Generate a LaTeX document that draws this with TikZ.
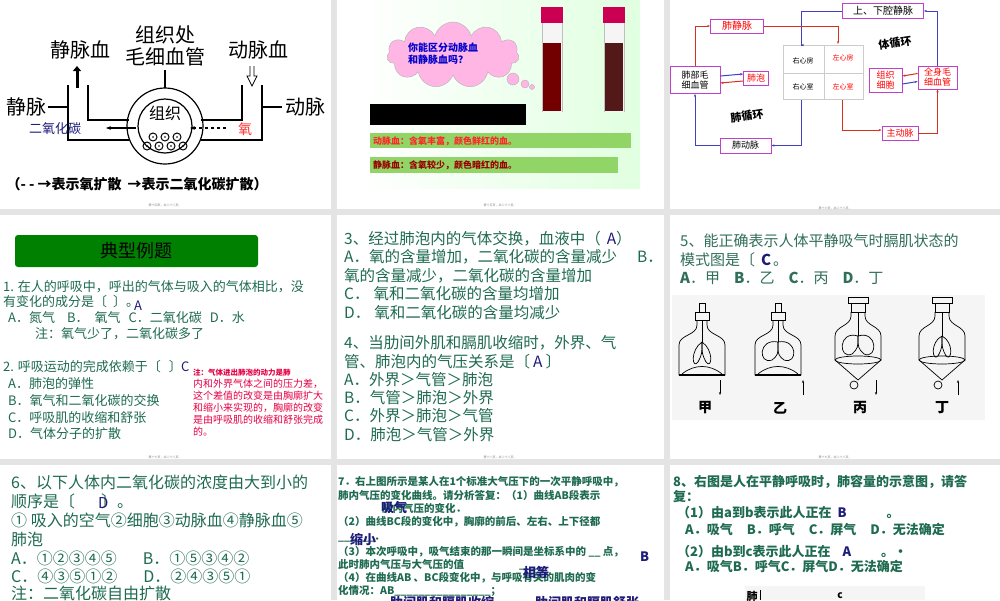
\documentclass[tikz,border=0pt]{standalone}
\usepackage{fontspec}
\setmainfont{Noto Sans CJK SC}
\usetikzlibrary{arrows.meta,shapes.symbols}
\definecolor{gtxt}{HTML}{1E6B50}
\definecolor{ans}{HTML}{1C1C7A}
\definecolor{bord}{HTML}{C040C8}
\definecolor{rarr}{HTML}{D83020}
\definecolor{barr}{HTML}{4040C0}
\definecolor{pagebg}{HTML}{E4E4E4}
\newcommand{\hs}[1]{\hspace*{#1pt}}
\tikzset{
 tl/.style={anchor=west,inner sep=0pt},
 bx/.style={draw=bord,line width=0.8pt,inner sep=1.5pt,font=\fontsize{9}{10}\selectfont,align=left},
 ra/.style={draw=rarr,line width=1pt,-{Stealth[length=3pt]}},
 ba/.style={draw=barr,line width=1pt,-{Stealth[length=3pt]}},
 pg/.style={font=\fontsize{3}{3}\selectfont,text=gray},
}
\begin{document}
\begin{tikzpicture}[x=1pt,y=-1pt]
\useasboundingbox (0,0) rectangle (1000,600);
\fill[pagebg] (0,0) rectangle (1000,600);
\foreach \xa/\xb in {0/331,337/664,670/1000}{
 \fill[white] (\xa,0) rectangle (\xb,209);
 \fill[white] (\xa,215) rectangle (\xb,459);
 \fill[white] (\xa,465) rectangle (\xb,600);}
% ---------------- slide 1
\begin{scope}[line width=1.2pt]
\node (s1a) at (165,35) {\fontsize{20}{20}\selectfont 组织处};
\node (s1b) at (165,57) {\fontsize{20}{20}\selectfont 毛细血管};
\node (s1c) at (80,50) {\fontsize{20}{20}\selectfont 静脉血};
\node (s1d) at (258,50) {\fontsize{20}{20}\selectfont 动脉血};
\node (s1e) at (26,107) {\fontsize{20}{20}\selectfont 静脉};
\node (s1f) at (305,107) {\fontsize{20}{20}\selectfont 动脉};
\draw (48,107)--(68,107); \draw (262,107)--(282,107);
\draw (165,70)--(165,88);
\draw (165,126) circle (38); \draw (165,126) circle (27);
\draw (68,85)--(68,140)--(129,140); \draw (88,85)--(88,120)--(129,120);
\draw (262,85)--(262,140)--(201,140); \draw (242,85)--(242,120)--(201,120);
\node (s1g) at (165,113) {\fontsize{16}{16}\selectfont 组织};
\foreach \x in {153,165,177}{\draw[line width=1pt] (\x,137) circle (4); \fill (\x,137) circle (0.9);}
\foreach \x in {147,159,171,183}{\draw[line width=1pt] (\x,146) circle (4); \fill (\x,146) circle (0.9);}
\node[text=ans] (s1h) at (55,129) {\fontsize{13}{13}\selectfont 二氧化碳};
\node[text=red!80] (s1i) at (245,129) {\fontsize{14}{14}\selectfont 氧};
\draw[-{Stealth[length=5pt]}] (136,128)--(106,128);
\draw[dashed,-{Stealth[length=5pt]}] (226,128)--(190,128);
\draw[line width=3pt,-{Triangle[length=5pt,width=8pt]}] (77,88)--(77,66);
\draw[line width=0.8pt] (250,66)--(250,76)--(247,76)--(252,86)--(257,76)--(254,76)--(254,66);
\node[tl] (s1j) at (6,184) {\fontsize{14}{14}\selectfont\bfseries （- - →表示氧扩散\hs{6}→表示二氧化碳扩散）};
\end{scope}
\node[pg] at (165,205) {第十四页，共二十八页。};
% ---------------- slide 2
\shade[left color=white,right color=green!12] (360,0) rectangle (640,188);
\node[cloud,cloud puffs=11,aspect=2,draw=gray!60,fill=pink!70!magenta!60,minimum width=132pt,minimum height=66pt] (cl) at (453,55) {};
\node[tl,text=blue!80!black,align=left] (cq) at (408,54) {\fontsize{10}{19}\selectfont\bfseries 你能区分动脉血\\\bfseries 和静脉血吗？};
\fill[pink!70!magenta!60,draw=gray!60] (513,79) circle (6) (525,84) circle (4) (532,87) circle (2.5);
\foreach \x/\c in {542/{red!45!black},604/{red!25!black!90}}{
 \fill[gray!8] (\x,20) rectangle (\x+20,112);
 \draw[gray!50] (\x,20)--(\x,112) (\x+20,20)--(\x+20,112);
 \fill[\c] (\x+1,43) rectangle (\x+19,111);
 \fill[red!60!magenta!80!black] (\x-1,7) rectangle (\x+21,23);}
\fill[black] (370,104) rectangle (526,125);
\fill[green!45!olive!60] (370,133) rectangle (631,148);
\fill[green!45!olive!60] (370,157) rectangle (618,173);
\node[tl,text=red!85] (b1) at (373,141) {\fontsize{9}{9}\selectfont\bfseries 动脉血：含氧丰富，颜色鲜红的血。};
\node[tl,text=red!60!black] (b2) at (373,165) {\fontsize{9}{9}\selectfont\bfseries 静脉血：含氧较少，颜色暗红的血。};
\node[pg] at (500,205) {第十五页，共二十八页。};
% ---------------- slide 3
\node[bx,minimum width=81pt,minimum height=15pt] (sx) at (883,11) {\fontsize{10}{10}\selectfont 上、下腔静脉};
\node[bx,text=red,minimum width=53pt,minimum height=14pt] (fjm) at (737,26) {\fontsize{10}{10}\selectfont 肺静脉};
\node[bx,minimum width=50pt,minimum height=27pt] (fbm) at (695,80) {肺部毛\\细血管};
\node[bx,text=red,minimum width=25pt,minimum height=14pt] (fp) at (756,78) {肺泡};
\draw[gray!40,line width=0.5pt] (783,45) rectangle (863,99) (824,45)--(824,99) (783,73)--(863,73);
\node (yxf) at (803,61) {\fontsize{7}{7}\selectfont 右心房};
\node (yxs) at (803,87) {\fontsize{7}{7}\selectfont 右心室};
\node[text=red] (zxf) at (843,58) {\fontsize{7}{7}\selectfont 左心房};
\node[text=red] (zxs) at (843,87) {\fontsize{7}{7}\selectfont 左心室};
\coordinate (hr) at (801,45); \coordinate (hl) at (838,44);
\coordinate (hrb) at (801,100); \coordinate (hlb) at (842,100);
\node[bx,text=red,minimum width=33pt,minimum height=24pt] (zz) at (885.5,80) {组织\\细胞};
\node[bx,text=red,minimum width=39pt,minimum height=23pt] (qs) at (937.5,77.5) {全身毛\\细血管};
\node[bx,text=red,minimum width=36pt,minimum height=14pt] (zdm) at (900,133) {主动脉};
\node[bx,minimum width=51pt,minimum height=15pt] (fdm) at (745.5,145.5) {肺动脉};
\node[rotate=8] (tx) at (895,43) {\fontsize{11}{11}\selectfont\bfseries 体循环};
\node[rotate=8] (fx) at (747,116) {\fontsize{11}{11}\selectfont\bfseries 肺循环};
\draw[ba] (sx.west) -- ++(-41,0) |- (hr);
\draw[ba] (qs.north) |- (sx.east);
\draw[ra] (fjm.east) -| (hl);
\draw[ra] (fbm.north) |- (fjm.west);
\draw[ra] ([yshift=-3pt]fp.west) -- ([yshift=-3pt]fbm.east);
\draw[ba] ([yshift=4pt]fbm.east) -- ([yshift=4pt]fp.west);
\draw[ba] (hrb) |- (fdm.east);
\draw[ba] (fdm.west) -| (fbm.south);
\draw[ra] (hlb) |- ([yshift=3pt]zdm.west);
\draw[ra] (zdm.east) -| (qs.south);
\draw[ba] ([yshift=-4pt]zz.east) -- ([yshift=-4pt]qs.west);
\draw[ra] ([yshift=4pt]qs.west) -- ([yshift=4pt]zz.east);
\node[pg] at (835,208) {第十六页，共二十八页。};
% ---------------- slide 4
\fill[green!50!black,rounded corners=3pt] (15,235) rectangle (258,267);
\node (t4) at (136,251) {\fontsize{18}{18}\selectfont 典型例题};
\begin{scope}[every node/.style={tl,text=gtxt,font=\fontsize{13}{13}\selectfont}]
\node (a1) at (3,287) {1. 在人的呼吸中，呼出的气体与吸入的气体相比，没};
\node (a2) at (3,302) {有变化的成分是〔\hs{6}〕。};
\node (a3) at (8,318) {A．氮气\hs{12}B．\hs{6}氧气\hs{8}C．二氧化碳\hs{8}D．水};
\node (a4) at (35,334) {注：氧气少了，二氧化碳多了};
\node (a5) at (3,367) {2. 呼吸运动的完成依赖于〔\hs{8}〕};
\node (a6) at (8,384) {A．肺泡的弹性};
\node (a7) at (8,401) {B．氧气和二氧化碳的交换};
\node (a8) at (8,418) {C．呼吸肌的收缩和舒张};
\node (a9) at (8,434) {D．气体分子的扩散};
\end{scope}
\node[tl,text=ans] (a10) at (134,306) {\fontsize{13}{13}\selectfont A};
\node[tl,text=ans] (a11) at (181,367) {\fontsize{13}{13}\selectfont C};
\node[tl,text=red!70!magenta!90!black,align=left] (a12) at (193,403) {\fontsize{7.5}{11.6}\selectfont\bfseries 注：气体进出肺泡的动力是肺\\内和外界气体之间的压力差，\\这个差值的改变是由胸廓扩大\\和缩小来实现的，胸廓的改变\\是由呼吸肌的收缩和舒张完成\\的。};
\node[pg] at (165,457) {第十七页，共二十八页。};
% ---------------- slide 5
\begin{scope}[every node/.style={tl,text=gtxt,font=\fontsize{15.5}{15.5}\selectfont}]
\node (c1) at (344,239) {3、经过肺泡内的气体交换，血液中（\hs{6}\textcolor{ans}{A}）};
\node (c2) at (344,257) {A．氧的含量增加，二氧化碳的含量减少\hs{20}B．};
\node (c3) at (344,276) {氧的含量减少，二氧化碳的含量增加};
\node (c4) at (344,294) {C．\hs{4}氧和二氧化碳的含量均增加};
\node (c5) at (344,313) {D．\hs{4}氧和二氧化碳的含量均减少};
\node (c6) at (344,343) {4、当肋间外肌和膈肌收缩时，外界、气};
\node (c7) at (344,362) {管、肺泡内的气压关系是〔\hs{3}\textcolor{ans}{A}\hs{3}〕};
\node (c8) at (344,380) {A．外界＞气管＞肺泡};
\node (c9) at (344,398) {B．气管＞肺泡＞外界};
\node (c10) at (344,416) {C．外界＞肺泡＞气管};
\node (c11) at (344,435) {D．肺泡＞气管＞外界};
\end{scope}
\node[pg] at (500,457) {第十八页，共二十八页。};
% ---------------- slide 6
\begin{scope}[every node/.style={tl,text=gtxt!80!gray,font=\fontsize{15}{15}\selectfont}]
\node (d1) at (680,241) {5、能正确表示人体平静吸气时膈肌状态的};
\node (d2) at (680,260) {模式图是〔\hs{6}\textcolor{ans}{\bfseries C}\hs{2}。};
\node (d3) at (680,278) {\bfseries A\mdseries．甲\hs{14}\bfseries B\mdseries．乙\hs{14}\bfseries C\mdseries．丙\hs{14}\bfseries D\mdseries．丁};
\end{scope}
\fill[gray!8] (672,295) rectangle (985,420);
\begin{scope}[line width=0.7pt]
\foreach \cx/\yd/\ar in {702/372/down,778/372/up}{
 \draw (\cx-3,303) rectangle (\cx+3,312) (\cx-7,312) rectangle (\cx+7,320);
 \draw (\cx-5,320)--(\cx-5,325) to[out=-90,in=90] (\cx-23,345)--(\cx-23,375)--(\cx+23,375)--(\cx+23,345) to[out=90,in=-90] (\cx+5,325)--(\cx+5,320);
 \draw[line width=2pt] (\cx-23,375)--(\cx+23,375);
 \draw (\cx-20,374) to[out=40,in=140] (\cx+20,374);
 \draw (\cx,320)--(\cx,342);}
\draw (702,342) .. controls (690,350) and (692,370) .. (698,362) .. controls (702,354) .. (702,342);
\draw (702,342) .. controls (714,350) and (712,370) .. (706,362) .. controls (702,354) .. (702,342);
\draw (778,342) .. controls (758,338) and (758,365) .. (772,360) .. controls (778,355) .. (778,342);
\draw (778,342) .. controls (798,338) and (798,365) .. (784,360) .. controls (778,355) .. (778,342);
\draw[-{Stealth[length=3pt]}] (720,380)--(720,395);
\draw[-{Stealth[length=3pt]}] (803,395)--(803,380);
\foreach \cx in {858,942}{
 \draw (\cx-7,303) rectangle (\cx+7,312) (\cx-10,297) rectangle (\cx+10,303);
 \draw (\cx-7,312)--(\cx-7,316) to[out=-90,in=90] (\cx-23,336)--(\cx-23,360)--(\cx,380)--(\cx+23,360)--(\cx+23,336) to[out=90,in=-90] (\cx+7,316)--(\cx+7,312);
 \draw (\cx,360) ellipse (23 and 4);
 \draw (\cx,312)--(\cx,336);
 \draw (\cx-4,385) circle (4);}
\draw (858,336) .. controls (838,330) and (838,360) .. (852,354) .. controls (858,348) .. (858,336);
\draw (858,336) .. controls (878,330) and (878,360) .. (864,354) .. controls (858,348) .. (858,336);
\draw (942,336) .. controls (930,342) and (932,362) .. (938,356) .. controls (942,348) .. (942,336);
\draw (942,336) .. controls (954,342) and (952,362) .. (946,356) .. controls (942,348) .. (942,336);
\draw[-{Stealth[length=3pt]}] (876,380)--(876,395);
\draw[-{Stealth[length=3pt]}] (958,395)--(958,380);
\end{scope}
\node (e1) at (705,408) {\fontsize{14}{14}\selectfont\bfseries 甲};
\node (e2) at (780,408) {\fontsize{14}{14}\selectfont\bfseries 乙};
\node (e3) at (860,408) {\fontsize{14}{14}\selectfont\bfseries 丙};
\node (e4) at (942,408) {\fontsize{14}{14}\selectfont\bfseries 丁};
\node[pg] at (835,457) {第十九页，共二十八页。};
% ---------------- slide 7
\begin{scope}[every node/.style={tl,text=gtxt,font=\fontsize{16}{16}\selectfont}]
\node (f1) at (11,482) {6、以下人体内二氧化碳的浓度由大到小的};
\node (f2) at (11,501) {顺序是〔\hs{26}〕。};
\node (f3) at (11,520) {① 吸入的空气②细胞③动脉血④静脉血⑤};
\node (f4) at (11,539) {肺泡};
\node (f5) at (11,558) {A．①②③④⑤\hs{26}B．①⑤③④②};
\node (f6) at (11,576) {C．④③⑤①②\hs{26}D．②④③⑤①};
\node (f7) at (11,593) {注：二氧化碳自由扩散};
\end{scope}
\node[tl,text=ans] (f8) at (98,503) {\fontsize{15}{15}\selectfont D};
% ---------------- slide 8
\begin{scope}
\clip (337,465) rectangle (664,600);
\begin{scope}[every node/.style={tl,text=gtxt,font=\fontsize{10.5}{10.5}\selectfont\bfseries}]
\node (g1) at (338,482) {7．右上图所示是某人在1个标准大气压下的一次平静呼吸中，};
\node (g2) at (338,495) {肺内气压的变化曲线。请分析答复：（1）曲线AB段表示};
\node (g3) at (382,508) {肺内气压的变化．};
\node (g4) at (338,522) {（2）曲线BC段的变化中，胸廓的前后、左右、上下径都};
\node (g5) at (338,540) {\_\_\_\_\_\_．};
\node (g6) at (338,552) {（3）本次呼吸中，吸气结束的那一瞬间是坐标系中的 \_\_ 点，};
\node (g7) at (338,565) {此时肺内气压与大气压的值\hs{55}\_\_\_\_};
\node (g8) at (338,578) {（4）在曲线AB 、BC段变化中，与呼吸有关的肌肉的变};
\node (g9) at (338,591) {化情况：AB\_\_\_\_\_\_\_\_\_\_\_\_\_\_\_\_；};
\end{scope}
\begin{scope}[every node/.style={tl,text=ans,font=\fontsize{13}{13}\selectfont\bfseries}]
\node (h1) at (381,508) {吸气};
\node (h2) at (350,539) {缩小};
\node (h3) at (640,557) {B};
\node (h4) at (523,572) {相等};
\node (h5) at (390,603) {肋间肌和膈肌收缩};
\node (h6) at (535,603) {肋间肌和膈肌舒张};
\end{scope}
\end{scope}
% ---------------- slide 9
\begin{scope}[every node/.style={tl,text=gtxt,font=\fontsize{13}{13}\selectfont\bfseries}]
\node (i1) at (673,482) {8、右图是人在平静呼吸时，肺容量的示意图，请答};
\node (i2) at (673,497) {复：};
\node (i3) at (677,513) {（1）由a到b表示此人正在\hs{6}\textcolor{ans}{B}\hs{40}。};
\node (i4) at (685,530) {A．吸气\hs{14}B．呼气\hs{14}C．屏气\hs{14}D．无法确定};
\node (i5) at (677,552) {（2）由b到c表示此人正在\hs{12}\textcolor{ans}{A}\hs{30}。·};
\node (i6) at (685,567) {A．吸气B．呼气C．屏气D．无法确定};
\end{scope}
\fill[gray!8] (745,586) rectangle (925,600);
\node (j1) at (752,596) {\fontsize{11}{11}\selectfont\bfseries 肺};
\node (j2) at (840,596) {\fontsize{10}{10}\selectfont\bfseries c};
\draw[line width=0.8pt] (760,600)--(760,590);
\end{tikzpicture}
\end{document}
